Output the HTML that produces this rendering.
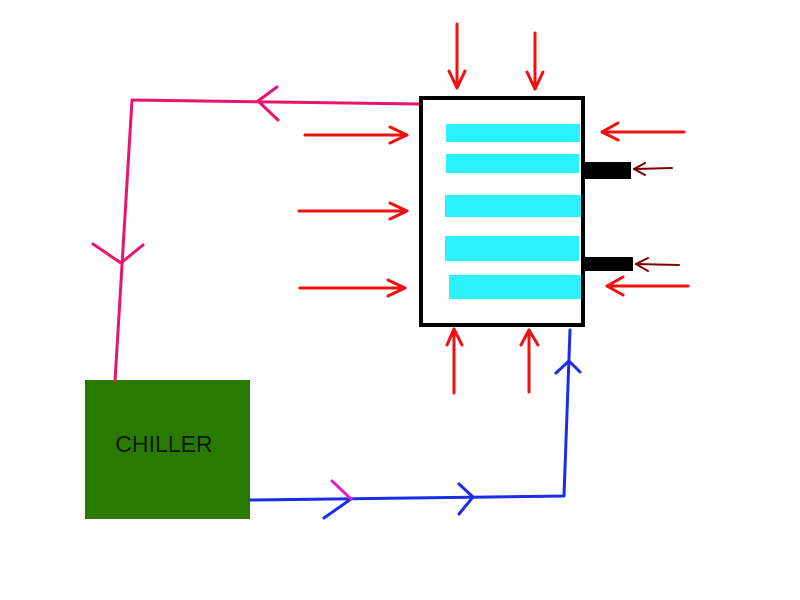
<!DOCTYPE html>
<html>
<head>
<meta charset="utf-8">
<style>
  html,body{margin:0;padding:0;background:#fff;}
  svg{display:block;}
</style>
</head>
<body>
<svg width="800" height="600" viewBox="0 0 800 600" xmlns="http://www.w3.org/2000/svg">
  <rect width="800" height="600" fill="#fff"/>

  <!-- Chiller -->
  <rect x="85" y="380" width="165" height="139" fill="#2a7a00"/>
  <text x="164" y="452" font-family="Liberation Sans, Arial, sans-serif" font-size="23" fill="#0a1a00" text-anchor="middle">CHILLER</text>

  <!-- Pink return line -->
  <g stroke="#e8156e" stroke-width="3" fill="none" stroke-linecap="round" stroke-linejoin="round">
    <polyline points="419,104 132,100 115,381"/>
    <polyline points="277,87 258,101 278,120"/>
    <polyline points="93,244 121,263 143,245"/>
  </g>

  <!-- Blue supply line -->
  <g stroke="#1a2ee8" stroke-width="3" fill="none" stroke-linecap="round" stroke-linejoin="round">
    <polyline points="250,500 564,496 570,330"/>
    <polyline points="324,518 351,499"/>
    <polyline points="459,484 473,497 459,514"/>
    <polyline points="556,373 569,361 580,372"/>
  </g>
  <line x1="332" y1="481" x2="351" y2="499" stroke="#e020d0" stroke-width="3" stroke-linecap="round"/>

  <!-- Box -->
  <rect x="421" y="98" width="162" height="227" fill="#fff" stroke="#000" stroke-width="4"/>

  <!-- Cyan bars -->
  <g fill="#2af2fc">
    <rect x="446" y="124" width="134" height="18"/>
    <rect x="446" y="154" width="133" height="19"/>
    <rect x="445" y="195" width="136" height="22"/>
    <rect x="445" y="236" width="134" height="25"/>
    <rect x="449" y="275" width="132" height="24"/>
  </g>

  <!-- Black tabs -->
  <rect x="583" y="162" width="48" height="17" fill="#000"/>
  <rect x="583" y="257" width="50" height="14" fill="#000"/>

  <!-- Red arrows -->
  <g stroke="#ee1111" stroke-width="3" fill="none" stroke-linecap="round" stroke-linejoin="round">
    <!-- top -->
    <line x1="457" y1="24" x2="457" y2="88"/>
    <polyline points="449,71 457,88 465,71"/>
    <line x1="535" y1="33" x2="535" y2="89"/>
    <polyline points="527,72 535,89 543,72"/>
    <!-- left -->
    <line x1="305" y1="135" x2="407" y2="135"/>
    <polyline points="390,127 407,135 390,143"/>
    <line x1="299" y1="211" x2="407" y2="211"/>
    <polyline points="390,203 407,211 390,219"/>
    <line x1="300" y1="288" x2="405" y2="288"/>
    <polyline points="388,280 405,288 388,296"/>
    <!-- right -->
    <line x1="684" y1="132" x2="602" y2="132"/>
    <polyline points="618,123 602,132 618,140"/>
    <line x1="688" y1="286" x2="607" y2="286"/>
    <polyline points="623,277 607,286 623,295"/>
    <!-- bottom -->
    <line x1="454" y1="393" x2="454" y2="329"/>
    <polyline points="447,345 454,329 462,345"/>
    <line x1="529" y1="392" x2="529" y2="330"/>
    <polyline points="521,345 529,330 538,345"/>
  </g>

  <!-- Dark red small arrows -->
  <g stroke="#7a0000" stroke-width="2" fill="none" stroke-linecap="round" stroke-linejoin="round">
    <line x1="672" y1="168" x2="634" y2="169"/>
    <polyline points="645,163 634,169 645,175"/>
    <line x1="679" y1="265" x2="636" y2="264"/>
    <polyline points="648,258 636,264 648,271"/>
  </g>
</svg>
</body>
</html>
